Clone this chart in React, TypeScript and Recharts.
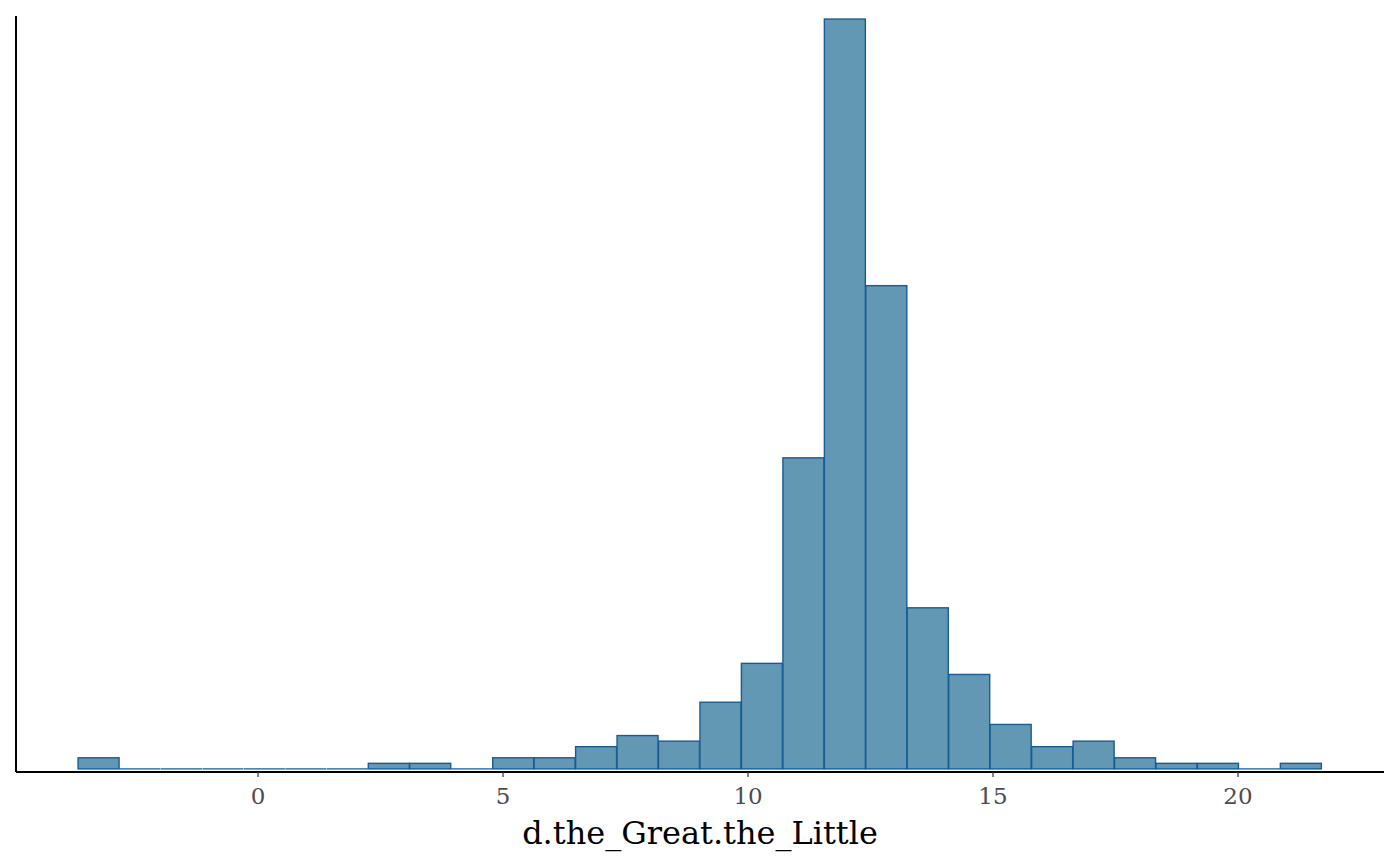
import React from 'react'
import { BarChart, Bar, XAxis, YAxis } from 'recharts'

// histogram bin centres (bin width ~0.846)
const binMids = [
  -3.25, -2.404, -1.558, -0.711, 0.135, 0.981, 1.827, 2.673, 3.519, 4.365,
  5.212, 6.058, 6.904, 7.75, 8.596, 9.442, 10.288, 11.135, 11.981, 12.827,
  13.673, 14.519, 15.365, 16.212, 17.058, 17.904, 18.75, 19.596, 20.442, 21.288,
]
const counts = [
  2, 0, 0, 0, 0, 0, 0, 1, 1, 0,
  2, 2, 4, 6, 5, 12, 19, 56, 135, 87,
  29, 17, 8, 4, 5, 2, 1, 1, 0, 1,
]
const xTicks = [0, 5, 10, 15, 20]
const xLabel = 'd.the_Great.the_Little'

const data = binMids.map((mid, i) => ({ mid, count: counts[i] }))

const FILL = '#6398b5'
const EDGE = '#175d95'
const FONT = '"DejaVu Serif", serif'

// ggplot draws empty bins as a flat outline, so keep those visible
const HistBar = (props: any) => {
  const { x, y, width, height } = props
  if (!height) {
    return <line x1={x} x2={x + width} y1={y} y2={y} stroke={EDGE} strokeWidth={1.2} />
  }
  return <rect x={x} y={y} width={width} height={height} fill={FILL} stroke={EDGE} strokeWidth={1.4} />
}

export default function App() {
  return (
    <div style={{ position: 'absolute', left: 0, top: 0, background: '#fff' }}>
      <BarChart
        width={1400}
        height={866}
        data={data}
        margin={{ top: 16, right: 16, bottom: 0, left: 12 }}
        barCategoryGap={0}
        barGap={0}
      >
        <XAxis
          type="number"
          dataKey="mid"
          domain={[-4.94, 22.98]}
          allowDataOverflow
          ticks={xTicks}
          height={94}
          tickSize={5}
          tickMargin={11}
          axisLine={{ stroke: '#000', strokeWidth: 2 }}
          tickLine={{ stroke: '#333', strokeWidth: 1.2 }}
          tick={{ fill: '#4d4d4d', fontSize: 23, fontFamily: FONT }}
          label={{
            value: xLabel,
            position: 'insideBottom',
            offset: 22,
            fill: '#000',
            fontSize: 32,
            fontFamily: FONT,
          }}
        />
        <YAxis
          type="number"
          domain={[-0.56, 135.55]}
          allowDataOverflow
          width={4}
          tick={false}
          tickLine={false}
          axisLine={{ stroke: '#000', strokeWidth: 2 }}
        />
        <Bar dataKey="count" shape={HistBar} isAnimationActive={false} />
      </BarChart>
    </div>
  )
}
